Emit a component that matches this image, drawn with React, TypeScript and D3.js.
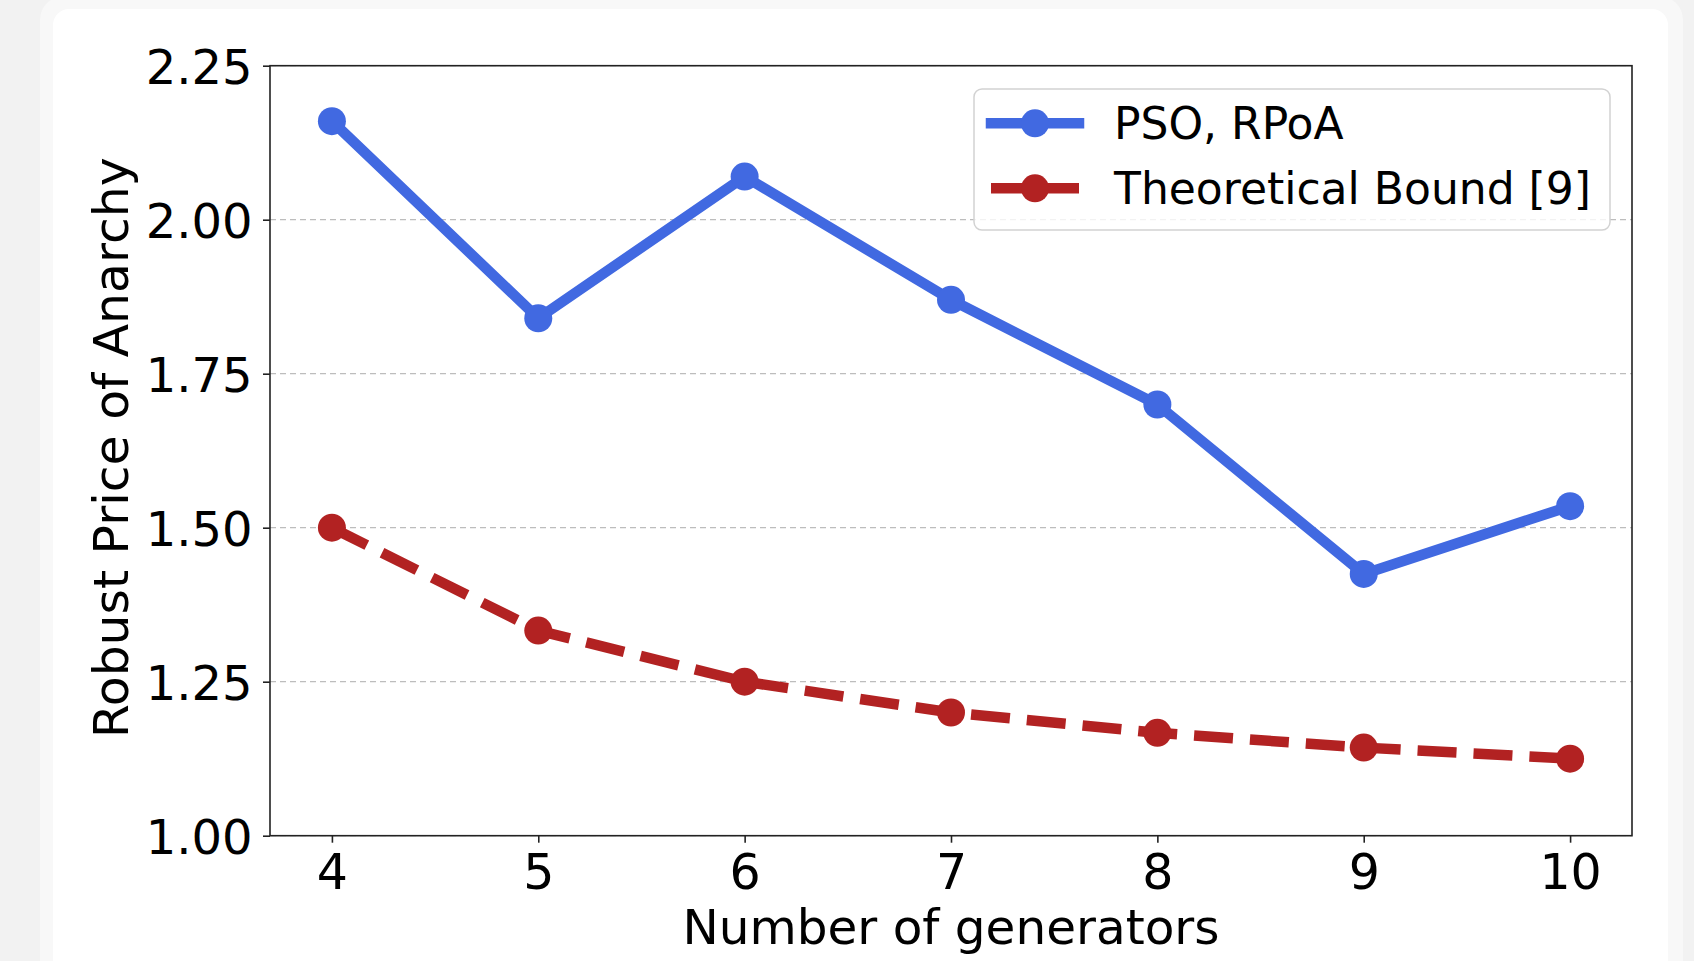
import * as d3 from "d3"
import { useEffect, useRef } from "react"

// values
const generators = [4, 5, 6, 7, 8, 9, 10];
const psoRpoa = [2.16, 1.84, 2.07, 1.87, 1.70, 1.425, 1.535];
const theoreticalBound = [1.5, 1.333, 1.25, 1.2, 1.167, 1.143, 1.125];
const yTicks = [1.0, 1.25, 1.5, 1.75, 2.0, 2.25];
const seriesNames = ["PSO, RPoA", "Theoretical Bound [9]"];

const FONT = "'DejaVu Sans', sans-serif";

const App = () => {
	const chartRef = useRef(null);

	const width = 1694;
	const height = 961;

	const margin = {
		top: 65.7,
		bottom: 125.3,
		left: 270,
		right: 62
	};

	const boundsWidth = width - margin.left - margin.right;
	const boundsHeight = height - margin.top - margin.bottom;

	useEffect(() => {
		const svg = d3.select(chartRef.current);
		svg.selectAll("*").remove();

		// page / card background
		svg.append("rect").attr("width", width).attr("height", height).style("fill", "#f2f2f2");
		svg.append("rect")
			.attr("x", 40).attr("y", -4)
			.attr("width", 1643).attr("height", 1100)
			.attr("rx", 24)
			.style("fill", "#f8f8f8");
		svg.append("rect")
			.attr("x", 53).attr("y", 9)
			.attr("width", 1615).attr("height", 1100)
			.attr("rx", 16)
			.style("fill", "#ffffff");

		const scaleX = d3.scaleLinear().domain([3.7, 10.3]).range([0, boundsWidth]);
		const scaleY = d3.scaleLinear().domain([1.0, 2.25]).range([boundsHeight, 0]);

		const g = svg.append("g").attr("transform", `translate(${margin.left}, ${margin.top})`);

		// horizontal grid
		g.selectAll(".grid")
			.data(yTicks)
			.enter()
			.append("line")
			.attr("class", "grid")
			.attr("x1", 0)
			.attr("x2", boundsWidth)
			.attr("y1", d => scaleY(d))
			.attr("y2", d => scaleY(d))
			.style("stroke", "#bdbdbd")
			.style("stroke-width", 1.3)
			.style("stroke-dasharray", "6 4");

		const series = [
			{ key: "pso", values: psoRpoa, color: "#4169e1", dash: null },
			{ key: "bound", values: theoreticalBound, color: "#b22222", dash: "39 17" }
		];

		const line = d3.line()
			.x(d => scaleX(d[0]))
			.y(d => scaleY(d[1]));

		series.forEach(item => {
			const pts = generators.map((n, i) => [n, item.values[i]]);
			g.append("path")
				.attr("d", line(pts))
				.style("fill", "none")
				.style("stroke", item.color)
				.style("stroke-width", 10.5)
				.style("stroke-linejoin", "round")
				.style("stroke-dasharray", item.dash);

			g.selectAll(`.m-${item.key}`)
				.data(pts)
				.enter()
				.append("circle")
				.attr("class", `m-${item.key}`)
				.attr("cx", d => scaleX(d[0]))
				.attr("cy", d => scaleY(d[1]))
				.attr("r", 14)
				.style("fill", item.color);
		});

		// axes
		const xAxis = d3.axisBottom(scaleX)
			.tickValues(generators)
			.tickFormat(d3.format("d"))
			.tickSize(7)
			.tickSizeOuter(0)
			.tickPadding(12);
		const gx = g.append("g").attr("transform", `translate(0, ${boundsHeight})`).call(xAxis);
		gx.select(".domain").remove();
		gx.selectAll("line").style("stroke", "#222").style("stroke-width", 1.6);
		gx.selectAll("text")
			.style("font-family", FONT)
			.style("font-size", "49px")
			.style("fill", "#000");

		const yAxis = d3.axisLeft(scaleY)
			.tickValues(yTicks)
			.tickFormat(d3.format(".2f"))
			.tickSize(7)
			.tickSizeOuter(0)
			.tickPadding(10.5);
		const gy = g.append("g").call(yAxis);
		gy.select(".domain").remove();
		gy.selectAll("line").style("stroke", "#222").style("stroke-width", 1.6);
		gy.selectAll("text")
			.attr("dy", "0.38em")
			.style("font-family", FONT)
			.style("font-size", "48px")
			.style("fill", "#000");

		// spines
		g.append("rect")
			.attr("width", boundsWidth)
			.attr("height", boundsHeight)
			.style("fill", "none")
			.style("stroke", "#222")
			.style("stroke-width", 1.6);

		// axis labels
		svg.append("text")
			.attr("x", margin.left + boundsWidth / 2)
			.attr("y", 944)
			.attr("text-anchor", "middle")
			.style("font-family", FONT)
			.style("font-size", "48.5px")
			.text("Number of generators");

		svg.append("text")
			.attr("transform", `translate(128, ${margin.top + boundsHeight / 2 - 3}) rotate(-90)`)
			.attr("text-anchor", "middle")
			.style("font-family", FONT)
			.style("font-size", "48.8px")
			.text("Robust Price of Anarchy");

		// legend
		const legend = svg.append("g").attr("transform", "translate(974, 89)");
		legend.append("rect")
			.attr("width", 636)
			.attr("height", 141)
			.attr("rx", 8)
			.style("fill", "#ffffff")
			.style("fill-opacity", 0.8)
			.style("stroke", "#d2d2d2")
			.style("stroke-width", 1.5);

		series.forEach((item, i) => {
			const rowY = 34.3 + i * 65;
			legend.append("line")
				.attr("x1", 17)
				.attr("x2", 105)
				.attr("y1", rowY)
				.attr("y2", rowY)
				.style("stroke", item.color)
				.style("stroke-width", 10.5)
				.style("stroke-linecap", item.dash ? "butt" : "square")
				.style("stroke-dasharray", item.dash);
			legend.append("circle")
				.attr("cx", 61)
				.attr("cy", rowY)
				.attr("r", 14)
				.style("fill", item.color);
			legend.append("text")
				.attr("x", 140)
				.attr("y", rowY + 15.5)
				.style("font-family", FONT)
				.style("font-size", "44px")
				.style("fill", "#000")
				.text(seriesNames[i]);
		});
	}, [boundsHeight, boundsWidth, margin.left, margin.top]);

	return (
		<svg
			ref={chartRef}
			width={width}
			height={height}
			style={{ position: "fixed", top: 0, left: 0, display: "block" }}
		></svg>
	)
}

export default App;
